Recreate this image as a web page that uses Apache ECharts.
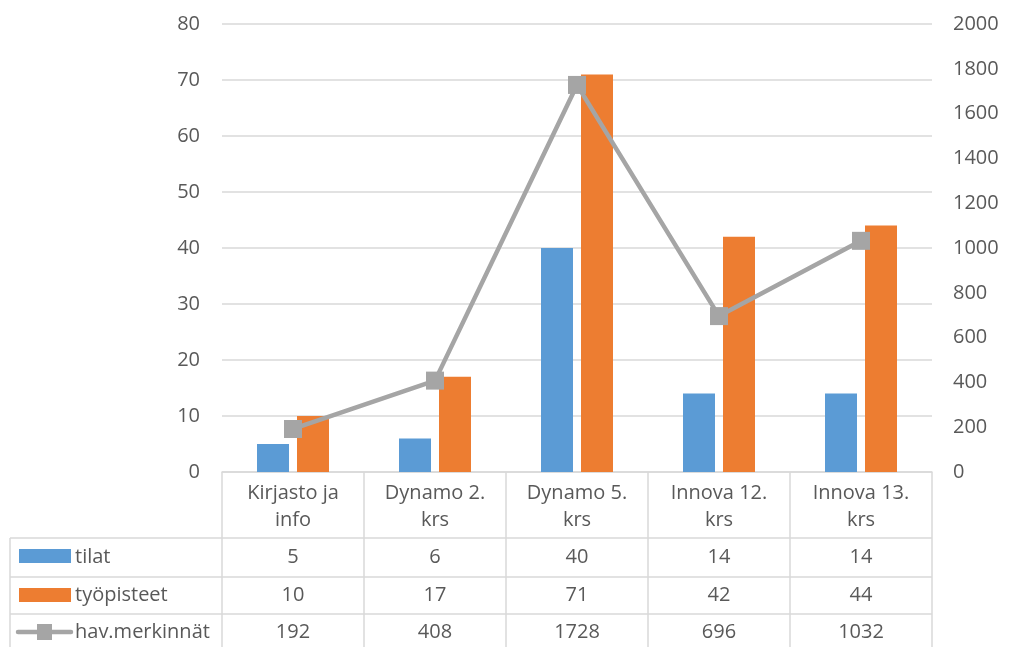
<!DOCTYPE html>
<html>
<head>
<meta charset="utf-8">
<script src="https://cdn.jsdelivr.net/npm/echarts@6/dist/echarts.min.js"></script>
<style>
  html, body { margin: 0; padding: 0; background: #fff; }
  #chart { width: 1011px; height: 647px; }
</style>
</head>
<body>
<div id="chart"></div>
<script>
// Categories (tilat / työpisteet / havainnot per location)
const categories = ['Kirjasto ja\ninfo', 'Dynamo 2.\nkrs', 'Dynamo 5.\nkrs', 'Innova 12.\nkrs', 'Innova 13.\nkrs'];
const tilat = [5, 6, 40, 14, 14];
const tyopisteet = [10, 17, 71, 42, 44];
const havMerkinnat = [192, 408, 1728, 696, 1032];
const seriesNames = ['tilat', 'työpisteet', 'hav.merkinnät'];

const FONT = '"Open Sans", Lato, sans-serif';
const FS = 20;
const TXT = '#595959';
const LINE = '#D9D9D9';
const BLUE = '#5B9BD5', ORANGE = '#ED7D31', GRAY = '#A5A5A5';

const G = { left: 222, right: 79, top: 24, bottom: 175 };
const W = 1011, H = 647;
const plotL = G.left, plotR = W - G.right, axisY = H - G.bottom;
const colW = (plotR - plotL) / categories.length;
const rowLines = [538, 577, 614];
const rowCenters = [557, 595, 632];

// extra category axes that print the data-table rows
function tableAxis(values, center) {
  return {
    type: 'category', data: categories, position: 'bottom',
    offset: center - 10 - axisY,
    axisLine: { show: false }, axisTick: { show: false },
    axisLabel: {
      margin: 0, fontSize: FS, lineHeight: 20, color: TXT, fontFamily: FONT,
      formatter: (v, i) => String(values[i])
    }
  };
}

const graphics = [];
// table horizontal lines
rowLines.forEach(y => graphics.push({
  type: 'line', shape: { x1: 10, y1: y, x2: plotR, y2: y },
  style: { stroke: LINE, lineWidth: 1.5 }, silent: true
}));
// table vertical lines
for (let i = 0; i <= categories.length; i++) {
  const x = plotL + i * colW;
  graphics.push({
    type: 'line', shape: { x1: x, y1: axisY, x2: x, y2: H },
    style: { stroke: LINE, lineWidth: 1.5 }, silent: true
  });
}
graphics.push({
  type: 'line', shape: { x1: 10, y1: rowLines[0], x2: 10, y2: H },
  style: { stroke: LINE, lineWidth: 1.5 }, silent: true
});
// row keys
graphics.push({ type: 'rect', shape: { x: 19, y: 549, width: 52, height: 14 }, style: { fill: BLUE } });
graphics.push({ type: 'rect', shape: { x: 19, y: 588, width: 52, height: 14 }, style: { fill: ORANGE } });
graphics.push({ type: 'line', shape: { x1: 18, y1: 632, x2: 71, y2: 632 }, style: { stroke: GRAY, lineWidth: 4.5, lineCap: 'round' } });
graphics.push({ type: 'rect', shape: { x: 37, y: 624, width: 15, height: 16 }, style: { fill: GRAY } });
seriesNames.forEach((n, i) => graphics.push({
  type: 'text', x: 75, y: rowCenters[i],
  style: { text: n, fontSize: FS, fontFamily: FONT, fill: TXT, verticalAlign: 'middle', align: 'left' }
}));

const chart = echarts.init(document.getElementById('chart'), null, { renderer: 'canvas' });
chart.setOption({
  animation: false,
  grid: G,
  xAxis: [
    {
      type: 'category', data: categories, position: 'bottom',
      axisLine: { show: true, lineStyle: { color: LINE, width: 1.5 } },
      axisTick: { show: false },
      axisLabel: { margin: 8, fontSize: FS, lineHeight: 27, color: TXT, fontFamily: FONT, interval: 0 }
    },
    tableAxis(tilat, rowCenters[0]),
    tableAxis(tyopisteet, rowCenters[1]),
    tableAxis(havMerkinnat, rowCenters[2])
  ],
  yAxis: [
    {
      type: 'value', min: 0, max: 80, interval: 10, position: 'left',
      axisLine: { show: false }, axisTick: { show: false },
      splitLine: { lineStyle: { color: LINE, width: 1.5 } },
      axisLabel: { margin: 22, fontSize: FS, color: TXT, fontFamily: FONT }
    },
    {
      type: 'value', min: 0, max: 2000, interval: 200, position: 'right',
      axisLine: { show: false }, axisTick: { show: false },
      splitLine: { show: false },
      axisLabel: { margin: 21, fontSize: FS, color: TXT, fontFamily: FONT, formatter: v => String(v) }
    }
  ],
  series: [
    { name: seriesNames[0], type: 'bar', data: tilat, barWidth: 32, barGap: '25%', itemStyle: { color: BLUE } },
    { name: seriesNames[1], type: 'bar', data: tyopisteet, barWidth: 32, barGap: '25%', itemStyle: { color: ORANGE } },
    {
      name: seriesNames[2], type: 'line', yAxisIndex: 1, data: havMerkinnat,
      symbol: 'rect', symbolSize: 18, lineStyle: { color: GRAY, width: 4.5 },
      itemStyle: { color: GRAY }, z: 5
    }
  ],
  graphic: graphics
});
</script>
</body>
</html>
